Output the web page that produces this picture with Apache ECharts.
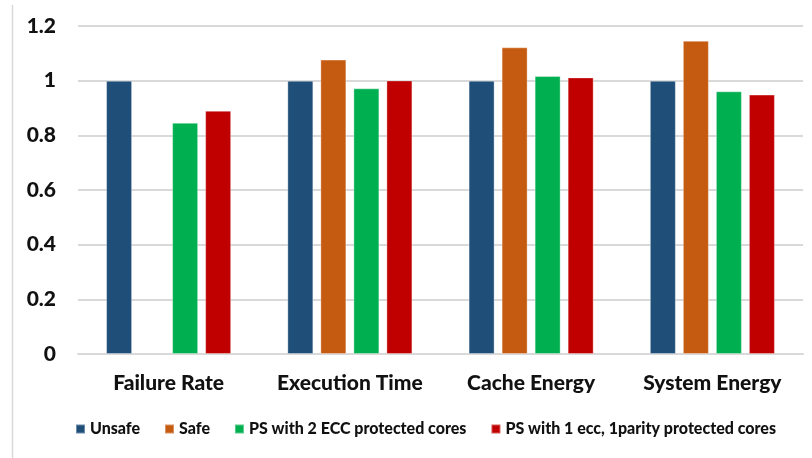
<!DOCTYPE html>
<html>
<head>
<meta charset="utf-8">
<script src="https://cdn.jsdelivr.net/npm/echarts@6/dist/echarts.min.js"></script>
<style>
  html, body { margin: 0; padding: 0; background: #fff; }
  #chart { width: 812px; height: 458px; }
</style>
</head>
<body>
<div id="chart"></div>
<script>
// Normalised metrics per configuration
const categories = ['Failure Rate', 'Execution Time', 'Cache Energy', 'System Energy'];
const seriesNames = ['Unsafe', 'Safe', 'PS with 2 ECC protected cores', 'PS with 1 ecc, 1parity protected cores'];
const unsafeValues = [1.0, 1.0, 1.0, 1.0];
const safeValues = [null, 1.077, 1.122, 1.146];
const ps2EccValues = [0.846, 0.972, 1.017, 0.961];
const ps1EccParityValues = [0.890, 1.001, 1.012, 0.949];
const yTicks = [0, 0.2, 0.4, 0.6, 0.8, 1, 1.2];

const colors = ['#1F4E79', '#C55A11', '#00B050', '#C00000'];
const valueSets = [unsafeValues, safeValues, ps2EccValues, ps1EccParityValues];
const FONT = 'Lato, "Open Sans", sans-serif';

const chart = echarts.init(document.getElementById('chart'), null, { renderer: 'canvas' });

chart.setOption({
  backgroundColor: '#ffffff',
  animation: false,
  grid: { left: 78, right: 9, top: 26, bottom: 104, containLabel: false },
  legend: {
    data: seriesNames,
    bottom: 16,
    left: 70,
    itemWidth: 9,
    itemHeight: 9,
    itemGap: 24,
    icon: 'rect',
    textStyle: { fontFamily: FONT, fontSize: 16, fontWeight: 900, color: '#111' }
  },
  xAxis: {
    type: 'category',
    data: categories,
    axisTick: { show: false },
    axisLine: { lineStyle: { color: '#d9d9d9', width: 2 } },
    axisLabel: { interval: 0, fontFamily: FONT, fontSize: 21, fontWeight: 900, color: '#111', margin: 19 }
  },
  yAxis: {
    type: 'value',
    min: yTicks[0],
    max: yTicks[yTicks.length - 1],
    interval: 0.2,
    axisLine: { show: false },
    axisTick: { show: false },
    splitLine: { lineStyle: { color: '#d9d9d9', width: 2 } },
    axisLabel: {
      fontFamily: FONT, fontSize: 21, fontWeight: 900, color: '#111', margin: 22,
      formatter: v => String(Math.round(v * 10) / 10)
    }
  },
  graphic: [{
    type: 'line',
    shape: { x1: 12.5, y1: 5, x2: 12.5, y2: 458 },
    style: { stroke: '#d9d9d9', lineWidth: 1.5 }
  }],
  series: seriesNames.map((name, i) => ({
    name,
    type: 'bar',
    data: valueSets[i].map(v => (v === null ? '-' : v)),
    barGap: '27%',
    barCategoryGap: '31%',
    itemStyle: { color: colors[i], borderColor: 'rgba(255,255,255,0.35)', borderWidth: 1 }
  }))
});
</script>
</body>
</html>
